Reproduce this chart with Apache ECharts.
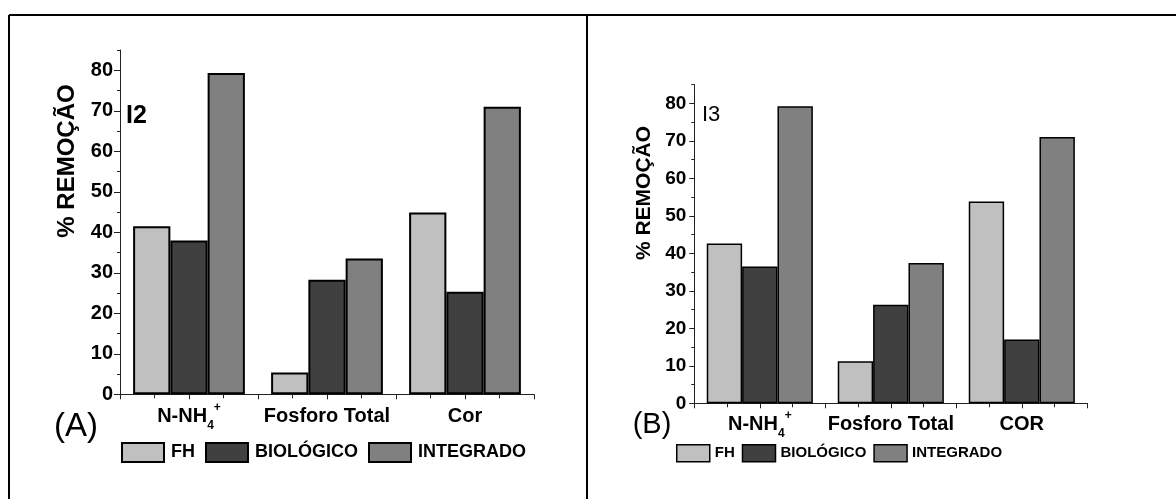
<!DOCTYPE html>
<html>
<head>
<meta charset="utf-8">
<script src="https://cdn.jsdelivr.net/npm/echarts@6/dist/echarts.min.js"></script>
<style>
  html, body { margin: 0; padding: 0; background: #fff; }
  #chart { width: 1176px; height: 499px; }
</style>
</head>
<body>
<div id="chart"></div>
<script>
// Removal efficiency (%) for each treatment, panels I2 and I3
const categoriesA = ['N-NH4+', 'Fosforo Total', 'Cor'];
const categoriesB = ['N-NH4+', 'Fosforo Total', 'COR'];
const seriesNames = ['FH', 'BIOLÓGICO', 'INTEGRADO'];

const fhA  = [41.5, 5.4, 44.9];
const bioA = [38.0, 28.3, 25.3];
const intA = [79.3, 33.5, 71.0];

const fhB  = [42.6, 11.2, 53.8];
const bioB = [36.5, 26.3, 17.0];
const intB = [79.2, 37.4, 71.0];

const yMajorTicks = [0, 10, 20, 30, 40, 50, 60, 70, 80];
const yMinorTicks = [5, 15, 25, 35, 45, 55, 65, 75, 85];
const yAxisTitle = '% REMOÇÃO';

const barColors = ['#c0c0c0', '#404040', '#808080'];
const FONT = '"Liberation Sans", Arial, sans-serif';

function catLabel(v) {
  if (v === 'N-NH4+') return '{m|N-NH}{sub|4}{sup|+}';
  return '{m|' + v + '}';
}
function catRich(size) {
  return {
    m:   { fontFamily: FONT, fontWeight: 'bold', fontSize: size, lineHeight: 30, color: '#000', verticalAlign: 'middle' },
    sub: { fontFamily: FONT, fontWeight: 'bold', fontSize: 12, lineHeight: 13, color: '#000', verticalAlign: 'bottom' },
    sup: { fontFamily: FONT, fontWeight: 'bold', fontSize: 12, lineHeight: 13, color: '#000', verticalAlign: 'top' }
  };
}

function xAxes(gridIndex, cats, margin, size) {
  return [
    {
      type: 'category', gridIndex, data: cats, position: 'bottom',
      axisLine: { show: true, lineStyle: { color: '#222', width: 1 } },
      axisTick: { show: false },
      axisLabel: { interval: 0, hideOverlap: false, margin, formatter: catLabel, rich: catRich(size) },
      splitLine: { show: false }
    },
    {
      // tick marks at category centres, boundaries and quarter points
      type: 'value', gridIndex, min: 0, max: cats.length, interval: 0.5, position: 'bottom', offset: 0,
      axisLine: { show: false },
      axisTick: { show: true, length: 5, lineStyle: { color: '#222', width: 1 } },
      minorTick: { show: true, splitNumber: 2, length: 4, lineStyle: { color: '#222', width: 1 } },
      axisLabel: { show: false },
      splitLine: { show: false }, minorSplitLine: { show: false }
    }
  ];
}

function yAxes(gridIndex, margin, size, tickLen) {
  return [
    {
      type: 'value', gridIndex, min: 0, max: 85,
      axisLine: { show: true, lineStyle: { color: '#222', width: 1 } },
      axisTick: { show: true, customValues: yMajorTicks, length: tickLen, lineStyle: { color: '#222', width: 1 } },
      axisLabel: { customValues: yMajorTicks, margin, fontFamily: FONT, fontWeight: 'bold', fontSize: size, color: '#000' },
      splitLine: { show: false }
    },
    {
      type: 'value', gridIndex, min: 0, max: 85, position: 'left', offset: 0,
      axisLine: { show: false },
      axisTick: { show: true, customValues: yMinorTicks, length: 3, lineStyle: { color: '#222', width: 1 } },
      axisLabel: { show: false },
      splitLine: { show: false }
    }
  ];
}

function barSeries(gridAxis, values, idx, bw) {
  return {
    type: 'bar', name: seriesNames[idx], data: values,
    xAxisIndex: gridAxis.x, yAxisIndex: gridAxis.y,
    barWidth: '27%', barGap: '0%',
    itemStyle: { color: barColors[idx], borderColor: '#000', borderWidth: bw },
    emphasis: { disabled: true },
    animation: false
  };
}

const chart = echarts.init(document.getElementById('chart'), null, { renderer: 'canvas' });

const option = {
  backgroundColor: '#fff',
  animation: false,
  grid: [
    { left: 120, right: 642, top: 50, bottom: 104.7 },
    { left: 694.3, right: 88.7, top: 84.6, bottom: 95.7 }
  ],
  xAxis: [].concat(xAxes(0, categoriesA, 7, 20), xAxes(1, categoriesB, 6, 20)),
  yAxis: [].concat(yAxes(0, 7, 20, 6), yAxes(1, 8, 19, 5)),
  legend: [
    {
      data: seriesNames, left: 121, top: 442, padding: 0, orient: 'horizontal',
      itemWidth: 42, itemHeight: 19, itemGap: 10, selectedMode: false,
      icon: 'rect',
      itemStyle: { borderColor: '#000', borderWidth: 2 },
      textStyle: { fontFamily: FONT, fontWeight: 'bold', fontSize: 18, color: '#000', padding: [0, 0, 0, 2] }
    },
    {
      data: seriesNames, left: 676, top: 444, padding: 0, orient: 'horizontal',
      itemWidth: 33, itemHeight: 17, itemGap: 7, selectedMode: false,
      icon: 'rect',
      itemStyle: { borderColor: '#000', borderWidth: 1.5 },
      textStyle: { fontFamily: FONT, fontWeight: 'bold', fontSize: 15, color: '#000' }
    }
  ],
  series: [
    barSeries({ x: 0, y: 0 }, fhA, 0, 2),
    barSeries({ x: 0, y: 0 }, bioA, 1, 2),
    barSeries({ x: 0, y: 0 }, intA, 2, 2),
    barSeries({ x: 2, y: 2 }, fhB, 0, 1.5),
    barSeries({ x: 2, y: 2 }, bioB, 1, 1.5),
    barSeries({ x: 2, y: 2 }, intB, 2, 1.5)
  ],
  graphic: [
    // frame and panel divider
    { type: 'line', shape: { x1: 9, y1: 15, x2: 1176, y2: 15 }, style: { stroke: '#000', lineWidth: 2 } },
    { type: 'line', shape: { x1: 9, y1: 15, x2: 9, y2: 499 }, style: { stroke: '#000', lineWidth: 2 } },
    { type: 'line', shape: { x1: 587, y1: 15, x2: 587, y2: 499 }, style: { stroke: '#000', lineWidth: 2 } },
    // axis titles
    { type: 'text', x: 67, y: 161, rotation: Math.PI / 2,
      style: { text: yAxisTitle, fontFamily: FONT, fontWeight: 'bold', fontSize: 24, fill: '#000', textAlign: 'center', textVerticalAlign: 'middle' } },
    { type: 'text', x: 644, y: 193, rotation: Math.PI / 2,
      style: { text: yAxisTitle, fontFamily: FONT, fontWeight: 'bold', fontSize: 21, fill: '#000', textAlign: 'center', textVerticalAlign: 'middle' } },
    // panel tags
    { type: 'text', x: 126, y: 116,
      style: { text: 'I2', fontFamily: FONT, fontWeight: 'bold', fontSize: 25, fill: '#000', textAlign: 'left', textVerticalAlign: 'middle' } },
    { type: 'text', x: 702, y: 115,
      style: { text: 'I3', fontFamily: FONT, fontSize: 22, fill: '#000', textAlign: 'left', textVerticalAlign: 'middle' } },
    { type: 'text', x: 76, y: 427,
      style: { text: '(A)', fontFamily: FONT, fontSize: 33, fill: '#000', textAlign: 'center', textVerticalAlign: 'middle' } },
    { type: 'text', x: 652, y: 425,
      style: { text: '(B)', fontFamily: FONT, fontSize: 29, fill: '#000', textAlign: 'center', textVerticalAlign: 'middle' } }
  ]
};

chart.setOption(option);
</script>
</body>
</html>
